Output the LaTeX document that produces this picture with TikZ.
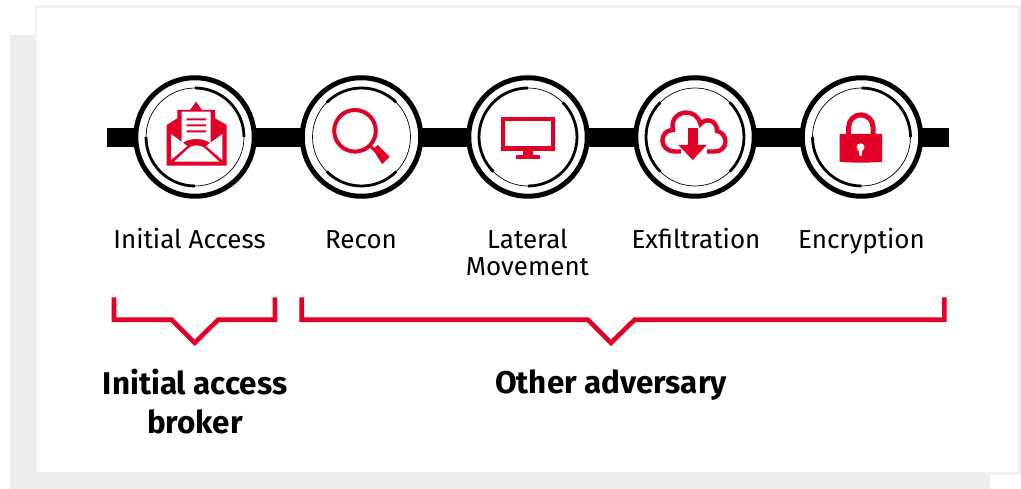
\documentclass[tikz,border=0pt]{standalone}
\usepackage{fontspec}
\usetikzlibrary{calc}
\setmainfont{Fira Sans}
\definecolor{cardgray}{RGB}{236,238,238}
\definecolor{cardedge}{RGB}{240,241,241}
\definecolor{brandred}{RGB}{226,0,38}
\tikzset{
  ringouter/.style={draw=black,line width=5pt,fill=white},
  thinarc/.style={draw=black,line width=0.7pt},
  thickarc/.style={draw=black,line width=2.8pt},
  iconfill/.style={fill=brandred,draw=none},
  iconline/.style={draw=brandred,fill=none},
  stepname/.style={font=\fontsize{26}{27}\selectfont,align=center,text=black},
  groupname/.style={font=\fontsize{31.4}{38.5}\selectfont\bfseries,align=center,text=black},
  bracket/.style={draw=brandred,line width=4.6pt,miter limit=10}
}
\newcommand{\stepring}[3]{%
  \node[ringouter,circle,minimum size=118.5pt,inner sep=0pt] (#1) at (#2,137) {};
  \draw[thinarc] (#1.center) circle[radius=49];
  \foreach \sa/\ea in {#3}{
    \draw[thickarc] ($(#1.center)+(\sa:49 and -49)$) arc[start angle=-\sa,end angle=-\ea,radius=49];
  }
}
\begin{document}
\begin{tikzpicture}[x=1pt,y=-1pt]
\useasboundingbox (0,0) rectangle (1021,489);
\fill[white] (0,0) rectangle (1021,489);
\fill[cardgray] (10,35) rectangle (990,489);
\fill[cardedge] (34.5,5.5) rectangle (1021,474.5);
\fill[white] (37,8) rectangle (1017.5,472);
% bar
\coordinate (barL) at (107,137.5);
\coordinate (barR) at (949,137.5);
\draw[line width=19.5pt,black] (barL) -- (barR);
% rings
\stepring{a}{195}{90/0,180/270}
\stepring{b}{361.5}{135/45,225/315}
\stepring{c}{528}{90/225,270/405}
\stepring{d}{695}{135/225,45/-45}
\stepring{e}{861.5}{90/0,180/270}
% envelope icon
\begin{scope}[shift={(a.center)}]
\fill[iconfill] (-17.7,-27) -- (-5,-27) -- (1,-35.3) -- (7,-27) -- (20,-27) -- (20,-18.7) -- (31.7,-12) -- (31.7,28.7) -- (-28.3,28.7) -- (-28.3,-12) -- (-17.7,-18.7) -- cycle;
\fill[white] (-13.3,-25.3) -- (15.7,-25.3) -- (15.7,6.3) .. controls (8,0.5) and (-5,0.5) .. (-13.3,6.3) -- cycle;
\fill[brandred] (-8.3,-18.7) rectangle (11,-16.7) (-8.3,-12.7) rectangle (11,-10.7) (-8.3,-6.7) rectangle (11,-4.7);
\fill[white] (-24,-3) -- (-7.7,9) -- (-24,23) -- cycle;
\fill[white] (27.3,-3) -- (11,9) -- (27.3,23) -- cycle;
\fill[white] (-21,24.7) -- (-7.7,12.3) .. controls (-3,7) and (6,7) .. (11,12.3) -- (24.3,24.7) -- cycle;
\end{scope}
% magnifier icon
\begin{scope}[shift={(b.center)}]
\draw[iconline,line width=4pt] (-6.5,-6.2) circle[radius=20.8];
\draw[iconline,line width=3pt] (8,8.5) -- (14,14);
\fill[iconfill] (11.3,12.3) -- (16.3,8) -- (28,19.7) -- (20.7,27.3) -- cycle;
\end{scope}
% monitor icon
\begin{scope}[shift={(c.center)}]
\draw[iconline,line width=4.4pt] (-25,-18) rectangle (24.8,11.5);
\fill[iconfill] (-5.3,13) rectangle (5.3,19);
\fill[iconfill] (-12,18) rectangle (12,22.3);
\end{scope}
% cloud icon
\begin{scope}[shift={(d.center)}]
\draw[iconline,line width=4.4pt] (-14,14.5) -- (-20,14.5) .. controls (-37,14) and (-36,-7) .. (-22,-7) .. controls (-25,-20) and (-14,-24.5) .. (-9,-24.5) .. controls (-2,-24.5) and (4,-20) .. (5.5,-13) .. controls (10,-19) and (22,-18) .. (22,-6) .. controls (33,-4) and (34,14) .. (20,14.5) -- (12,14.5);
\fill[iconfill] (-7.3,-8.7) rectangle (2.7,8.5);
\fill[iconfill] (-16.7,8) -- (11.7,8) -- (-2.3,23) -- cycle;
\end{scope}
% lock icon
\begin{scope}[shift={(e.center)}]
\draw[iconline,line width=5pt] (-12.8,0) -- (-12.8,-10) arc[start angle=180,end angle=360,radius=12.15] -- (11.5,0);
\fill[iconfill] (-22,-3) -- (20.7,-3) -- (20.7,24.7) .. controls (7,26) and (-8,26) .. (-22,24.7) -- cycle;
\fill[white] (-1,10.3) circle[radius=4];
\fill[white] (-2.5,10.3) rectangle (0.5,19);
\end{scope}
% labels
\node[stepname,anchor=base] (la) at (189.5,249) {Initial Access};
\node[stepname,anchor=base] (lb) at (361,249) {Recon};
\node[stepname,anchor=center] (lc) at (527.5,252.5) {Lateral\\Movement};
\node[stepname,anchor=base] (ld) at (696,249) {Exfiltration};
\node[stepname,anchor=base] (le) at (861.5,249) {Encryption};
% brackets
\coordinate (b1a) at (114,297.3);
\coordinate (b1b) at (275,297.3);
\coordinate (b2a) at (301.7,297.3);
\coordinate (b2b) at (944.3,297.3);
\draw[bracket] (b1a) |- (171.7,319.8) -- (194.8,342.8) -- (218,319.8) -| (b1b);
\draw[bracket] (b2a) |- (588,319.8) -- (611,342.8) -- (634.5,319.8) -| (b2b);
\node[groupname] (g1) at (195,401.5) {Initial access\\broker};
\node[groupname,anchor=base] (g2) at (611,393.5) {Other adversary};
\end{tikzpicture}
\end{document}
